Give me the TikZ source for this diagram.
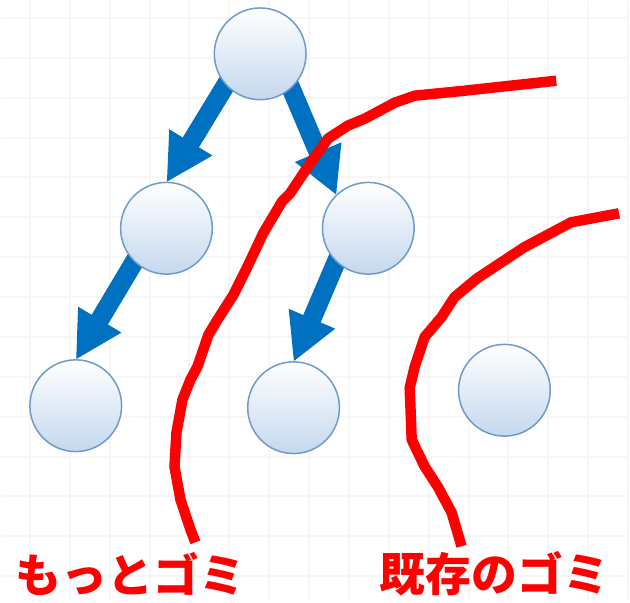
\documentclass[tikz,border=0pt]{standalone}
\usepackage{fontspec}
\newfontfamily\jp{Noto Sans CJK JP}
\usetikzlibrary{arrows.meta}
\definecolor{arrowblue}{HTML}{0070C0}
\definecolor{ringblue}{HTML}{6E9BC9}
\definecolor{fillblue}{HTML}{C5D8EE}
\definecolor{gridgray}{HTML}{F6F6F6}
\pgfdeclarelayer{grid}
\pgfdeclarelayer{links}
\pgfsetlayers{grid,links,main}
\begin{document}
\begin{tikzpicture}[x=1pt,y=-1pt,
  objnode/.style={circle, minimum size=92pt, inner sep=0pt, outer sep=0pt,
    draw=ringblue, line width=1.5pt, top color=white, bottom color=fillblue},
  refarrow/.style={arrowblue, line width=19pt, shorten <=-12pt,
    -{Triangle[length=47pt,width=47pt]}},
  garbage/.style={red, line width=10.5pt, line join=round},
  tagtext/.style={text=red, font=\jp\bfseries\fontsize{46}{46}\selectfont, inner sep=0pt}]

% canvas and faint grid
\begin{pgfonlayer}{grid}
  \fill[white] (0,0) rectangle (630,602);
  \foreach \x in {29,69,...,629} \draw[gridgray, line width=2pt] (\x,0) -- (\x,602);
  \foreach \y in {17,57,...,600} \draw[gridgray, line width=2pt] (0,\y) -- (630,\y);
\end{pgfonlayer}
\useasboundingbox (0,0) rectangle (630,602);

% objects
\node[objnode] (root) at (260,53) {};
\node[objnode] (ml) at (166,228) {};
\node[objnode] (mr) at (368.5,228) {};
\node[objnode] (bl) at (75,406) {};
\node[objnode] (bm) at (293.5,408) {};
\node[objnode] (iso) at (505,390.5) {};

% references
\begin{pgfonlayer}{links}
  \draw[refarrow] (root.222) -- (ml.north);
  \draw[refarrow] (root.-48) -- (mr.134);
  \draw[refarrow] (ml.226) -- (bl.north);
  \draw[refarrow] (mr.226) -- (bm.north);
\end{pgfonlayer}

% hand-drawn boundaries
\draw[garbage] (557,80) -- (465,90) -- (415,95) -- (395,102) -- (365,118) -- (348,125)
  -- (328,138) -- (318,152) -- (312,160) -- (300,178) -- (290,193) -- (282,201)
  -- (263,233) -- (247,267) -- (233,295) -- (217,320) -- (208,335) -- (197,367)
  -- (190,380) -- (182,400) -- (176,433) -- (174,467) -- (180,500) -- (190,530) -- (195,543);
\draw[garbage] (620,213) -- (572,222) -- (525,247) -- (478,278) -- (455,297) -- (442,317)
  -- (425,337) -- (415,367) -- (410,388) -- (412,440) -- (425,467) -- (438,487)
  -- (452,513) -- (462,547);

% captions
\node[tagtext] (more) at (130,575) {もっとゴミ};
\node[tagtext] (old) at (495,575) {既存のゴミ};
\end{tikzpicture}
\end{document}
